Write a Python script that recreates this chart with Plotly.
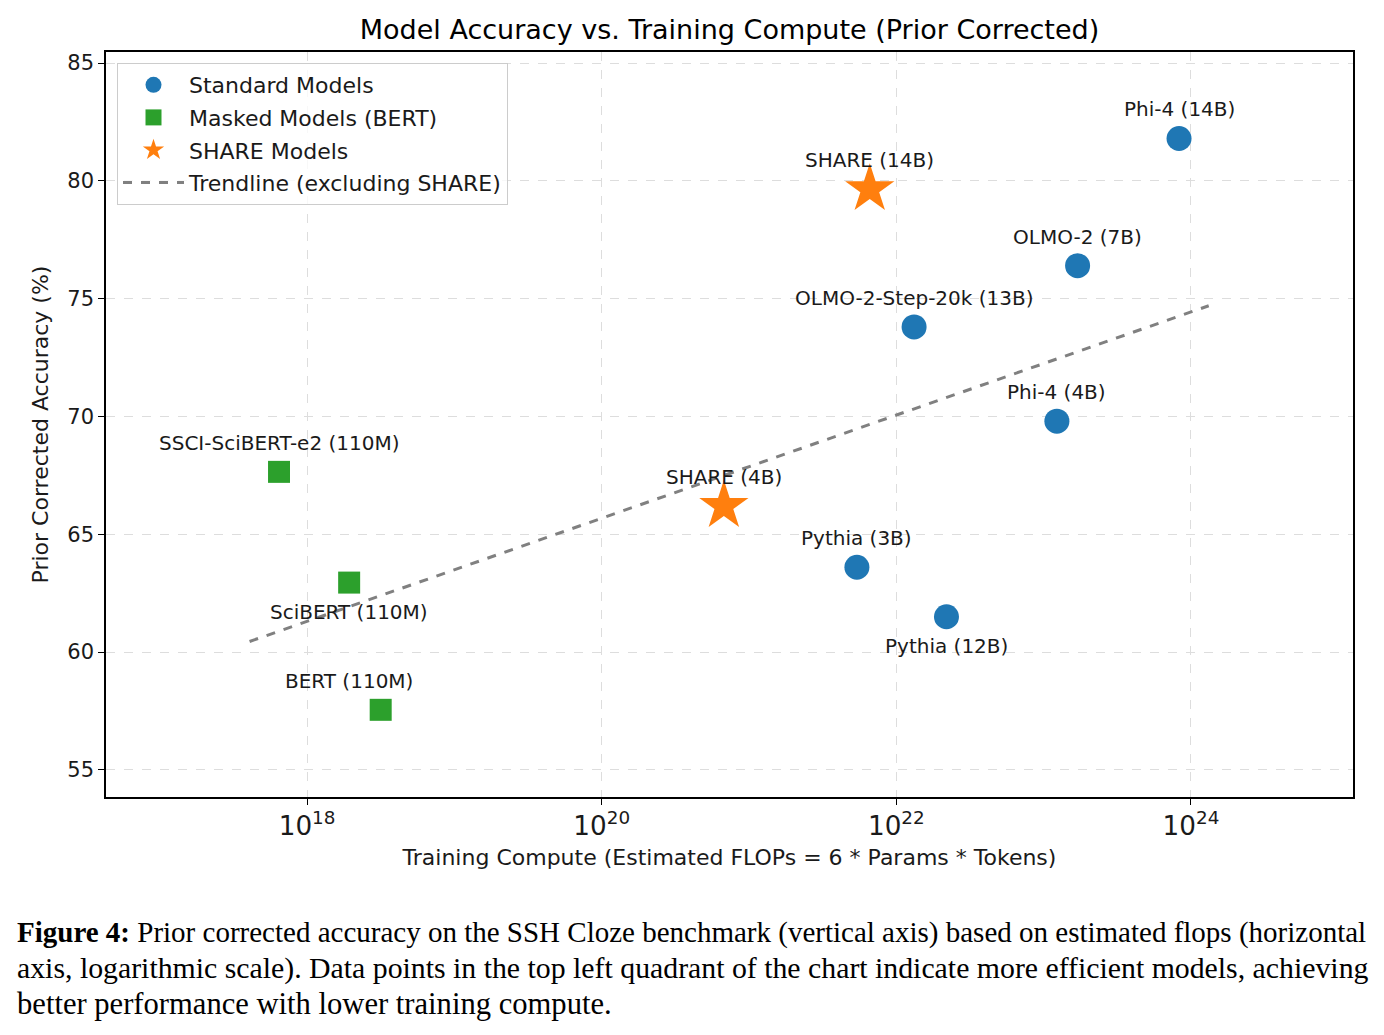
import plotly.graph_objects as go
import math

# ---------------- data ----------------
std_names = ["Phi-4 (14B)", "OLMO-2 (7B)", "OLMO-2-Step-20k (13B)", "Phi-4 (4B)", "Pythia (3B)", "Pythia (12B)"]
std_flops = [8.3e23, 1.7e23, 1.32e22, 1.23e23, 5.4e21, 2.19e22]
std_acc = [81.8, 76.4, 73.8, 69.8, 63.6, 61.5]

bert_names = ["SSCI-SciBERT-e2 (110M)", "SciBERT (110M)", "BERT (110M)"]
bert_flops = [6.45e17, 1.93e18, 3.16e18]
bert_acc = [67.65, 62.95, 57.55]

share_names = ["SHARE (14B)", "SHARE (4B)"]
share_flops = [6.6e21, 6.75e20]
share_acc = [79.65, 66.2]

trend_flops = [4.07e17, 1.32e24]
trend_acc = [60.45, 74.7]

# label placement: +1 above, -1 below; horizontal pixel offsets
std_label_side = [1, 1, 1, 1, 1, -1]
std_label_dx = [0, 0, 0, 0, 0, 0]
bert_label_side = [1, -1, 1]
bert_label_dx = [0, 0, -32]
share_label_side = [1, 1]
share_label_dx = [0, 0]

title = "Model Accuracy vs. Training Compute (Prior Corrected)"
x_title = "Training Compute (Estimated FLOPs = 6 * Params * Tokens)"
y_title = "Prior Corrected Accuracy (%)"
caption_lines = [
    "<b>Figure 4:</b> Prior corrected accuracy on the SSH Cloze benchmark (vertical axis) based on estimated flops (horizontal",
    "axis, logarithmic scale). Data points in the top left quadrant of the chart indicate more efficient models, achieving",
    "better performance with lower training compute.",
]
caption_sizes = [29, 29.8, 30.6]

# ---------------- layout geometry ----------------
W, H = 1384, 1035
L, R, T, B = 106, 1353, 52, 797

def px_to_paper(px, py):
    return (px - L) / (R - L), (B - py) / (B - T)

FONT = "DejaVu Sans"
fig = go.Figure()

fig.add_trace(go.Scatter(
    x=std_flops, y=std_acc, mode="markers", name="Standard Models", legendgroup="a",
    marker=dict(symbol="circle", size=25, color="#1f77b4", line=dict(width=0)),
))
fig.add_trace(go.Scatter(
    x=bert_flops, y=bert_acc, mode="markers", name="Masked Models (BERT)", legendgroup="b",
    marker=dict(symbol="square", size=22, color="#2ca02c", line=dict(width=0)),
))
fig.add_trace(go.Scatter(
    x=share_flops, y=share_acc, mode="markers", name="SHARE Models", legendgroup="c",
    marker=dict(symbol="star", size=37, color="#ff7f0e", line=dict(width=0)),
))
fig.add_trace(go.Scatter(
    x=trend_flops, y=trend_acc, mode="lines", name="Trendline (excluding SHARE)", legendgroup="d",
    line=dict(color="#808080", width=3, dash="dash"),
))

annos = []
for names, xs, ys, sides, dxs in [(std_names, std_flops, std_acc, std_label_side, std_label_dx),
                                  (bert_names, bert_flops, bert_acc, bert_label_side, bert_label_dx),
                                  (share_names, share_flops, share_acc, share_label_side, share_label_dx)]:
    for n, xv, yv, s, dx in zip(names, xs, ys, sides, dxs):
        annos.append(dict(x=math.log10(xv), y=yv, xref="x", yref="y", text=n, showarrow=False,
                          yshift=29 * s, xshift=dx, font=dict(family=FONT, size=20, color="#1a1a1a")))

cap_x, _ = px_to_paper(15, 0)
for i, (line, sz) in enumerate(zip(caption_lines, caption_sizes)):
    _, cy = px_to_paper(0, 932 + 36 * i)
    annos.append(dict(x=cap_x, y=cy, xref="paper", yref="paper", text=line, showarrow=False,
                      xanchor="left", yanchor="middle",
                      font=dict(family="Liberation Serif", size=sz, color="black")))

fig.update_layout(
    width=W, height=H,
    margin=dict(l=L, r=W - R, t=T, b=H - B, pad=0),
    paper_bgcolor="white", plot_bgcolor="white",
    font=dict(family=FONT, size=21, color="#1a1a1a"),
    title=dict(text=title, x=0.5, xref="paper", y=1 - 30 / H, yanchor="middle",
               font=dict(family=FONT, size=27, color="black")),
    showlegend=True,
    legend=dict(x=px_to_paper(117, 0)[0], y=px_to_paper(0, 63)[1], xanchor="left", yanchor="top",
                bgcolor="rgba(255,255,255,0.8)", bordercolor="#cccccc", borderwidth=1,
                font=dict(family=FONT, size=22, color="#1a1a1a"), itemsizing="trace",
                itemwidth=61, tracegroupgap=1, traceorder="grouped"),
    annotations=annos,
)
fig.update_xaxes(
    type="log", range=[16.635, 25.10], dtick=2, exponentformat="power",
    showgrid=True, gridcolor="#dddddd", griddash="dash", gridwidth=1,
    showline=True, linecolor="black", linewidth=1.5, mirror=True,
    ticks="outside", ticklen=6, tickcolor="black", zeroline=False,
    title=dict(text=x_title, standoff=9, font=dict(family=FONT, size=22)),
    tickfont=dict(family=FONT, size=21),
)
fig.update_yaxes(
    range=[53.85, 85.47], tickvals=[55, 60, 65, 70, 75, 80, 85],
    showgrid=True, gridcolor="#dddddd", griddash="dash", gridwidth=1,
    showline=True, linecolor="black", linewidth=1.5, mirror=True,
    ticks="outside", ticklen=6, tickcolor="black", zeroline=False,
    title=dict(text=y_title, standoff=13, font=dict(family=FONT, size=22)),
    tickfont=dict(family=FONT, size=21),
)

fig.write_html("out.html")
